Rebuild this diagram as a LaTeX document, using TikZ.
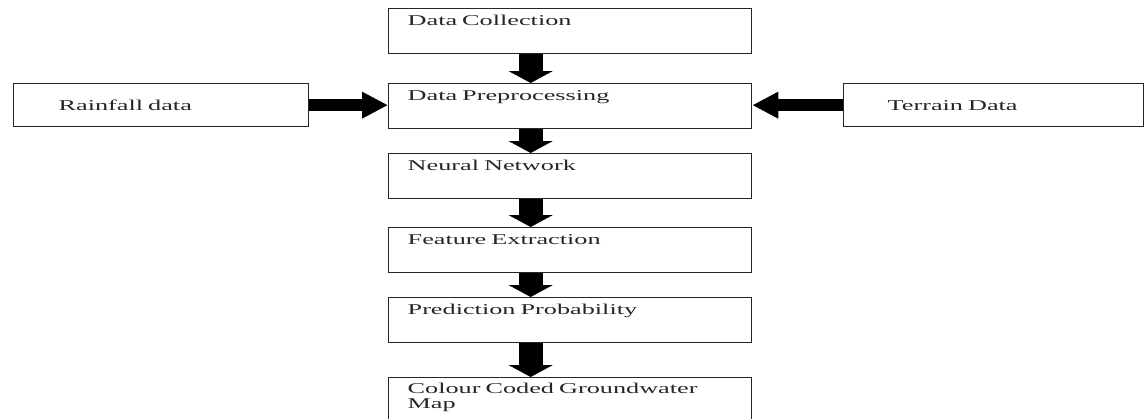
\documentclass[tikz,border=0pt]{standalone}
\usepackage{fontspec}
\setmainfont{Liberation Serif}[FakeStretch=1.75]
\usepackage{tikz}
\usetikzlibrary{arrows.meta}

\tikzset{
  paso/.style={draw=black!85, line width=1.3pt, anchor=north west,
    text width=325pt, inner xsep=19pt, inner ysep=0pt, align=left,
    text height=17pt, text depth=28pt, text=black!85,
    font=\fontsize{15pt}{15pt}\selectfont},
  entrada/.style={draw=black!85, line width=1.3pt, anchor=north west,
    inner xsep=45pt, inner ysep=0pt, align=left, minimum height=43pt,
    text=black!85, font=\fontsize{15pt}{15pt}\selectfont},
  flujo/.style={line width=24pt, -{Triangle[width=44pt,length=12pt]}},
  lado/.style={line width=12pt, -{Triangle[width=25pt,length=26pt]}}
}

\begin{document}
\begin{tikzpicture}[x=1pt,y=-1pt]
  \useasboundingbox (0,0) rectangle (1148,418);

  % cajas centrales
  \node[paso] (dc) at (388,8) {Data Collection};
  \node[paso] (dp) at (388,83) {Data Preprocessing};
  \node[paso] (nn) at (388,153) {Neural Network};
  \node[paso] (fe) at (388,227) {Feature Extraction};
  \node[paso] (pp) at (388,297) {Prediction Probability};
  \node[paso, text height=16pt, text depth=40pt] (map) at (388,377) {Colour Coded Groundwater Map};

  % entradas laterales
  \node[entrada, text width=205pt] (rain) at (13,83) {Rainfall data};
  \node[entrada, text width=212pt, inner xsep=44pt] (terr) at (843,83) {Terrain Data};

  % flechas verticales
  \draw[flujo] ([xshift=-39.5pt]dc.south) -- ([xshift=-39.5pt]dp.north);
  \draw[flujo] ([xshift=-39.5pt]dp.south) -- ([xshift=-39.5pt]nn.north);
  \draw[flujo] ([xshift=-39.5pt]nn.south) -- ([xshift=-39.5pt]fe.north);
  \draw[flujo] ([xshift=-39.5pt]fe.south) -- ([xshift=-39.5pt]pp.north);
  \draw[flujo] ([xshift=-39.5pt]pp.south) -- ([xshift=-39.5pt]map.north);

  % flechas laterales
  \draw[lado] (rain.east) -- (rain.east -| dp.west);
  \draw[lado] (terr.west) -- (terr.west -| dp.east);
\end{tikzpicture}
\end{document}
